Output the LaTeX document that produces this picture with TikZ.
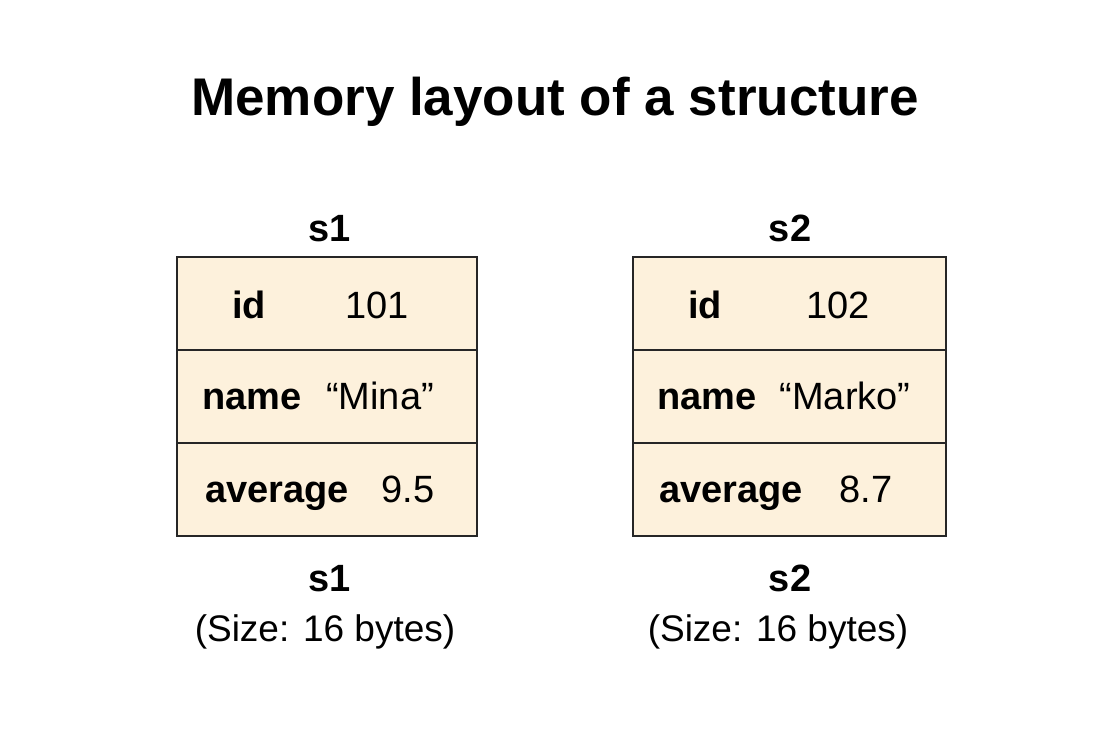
\documentclass[tikz,border=0pt]{standalone}
\usepackage{fontspec}
\setmainfont{Liberation Sans}
\definecolor{cream}{HTML}{FDF1DC}
\begin{document}
\begin{tikzpicture}[x=1pt,y=-1pt,
  cell/.style={draw=black!85,line width=2pt,fill=cream,minimum width=#1,minimum height=93pt,inner sep=0pt},
  lab/.style={anchor=base,inner sep=0pt,font=\fontsize{38}{44}\selectfont\bfseries},
  val/.style={anchor=base,inner sep=0pt,font=\fontsize{38}{44}\selectfont},
  sizecap/.style={anchor=base,inner sep=0pt,font=\fontsize{37}{44}\selectfont}]
\useasboundingbox (0,0) rectangle (1100,733);
\node[anchor=base,inner sep=0pt,font=\fontsize{53}{60}\selectfont\bfseries] (title) at (555,116) {Memory layout of a structure};
% left
\node[lab] (t1) at (330,241) {s1};
\node[cell=300pt,anchor=north west] (a1) at (176,256) {};
\node[cell=300pt,anchor=north west] (a2) at (176,349) {};
\node[cell=300pt,anchor=north west] (a3) at (176,442) {};
\node[lab] (l11) at (249,318) {id};
\node[val] (v11) at (377,318) {101};
\node[lab] (l12) at (252,409) {name};
\node[val] (v12) at (380,409) {“Mina”};
\node[lab] (l13) at (277,502) {average};
\node[val] (v13) at (408,502) {9.5};
\node[lab] (b1) at (330,591) {s1};
\node[sizecap] (c1) at (325,641) {(Size: 16 bytes)};
% right
\node[lab] (t2) at (790,241) {s2};
\node[cell=313pt,anchor=north west] (b1r) at (632,256) {};
\node[cell=313pt,anchor=north west] (b2r) at (632,349) {};
\node[cell=313pt,anchor=north west] (b3r) at (632,442) {};
\node[lab] (l21) at (705,318) {id};
\node[val] (v21) at (838,318) {102};
\node[lab] (l22) at (707,409) {name};
\node[val] (v22) at (845,409) {“Marko”};
\node[lab] (l23) at (731,502) {average};
\node[val] (v23) at (866,502) {8.7};
\node[lab] (b2) at (790,591) {s2};
\node[sizecap] (c2) at (778,641) {(Size: 16 bytes)};
\end{tikzpicture}
\end{document}
